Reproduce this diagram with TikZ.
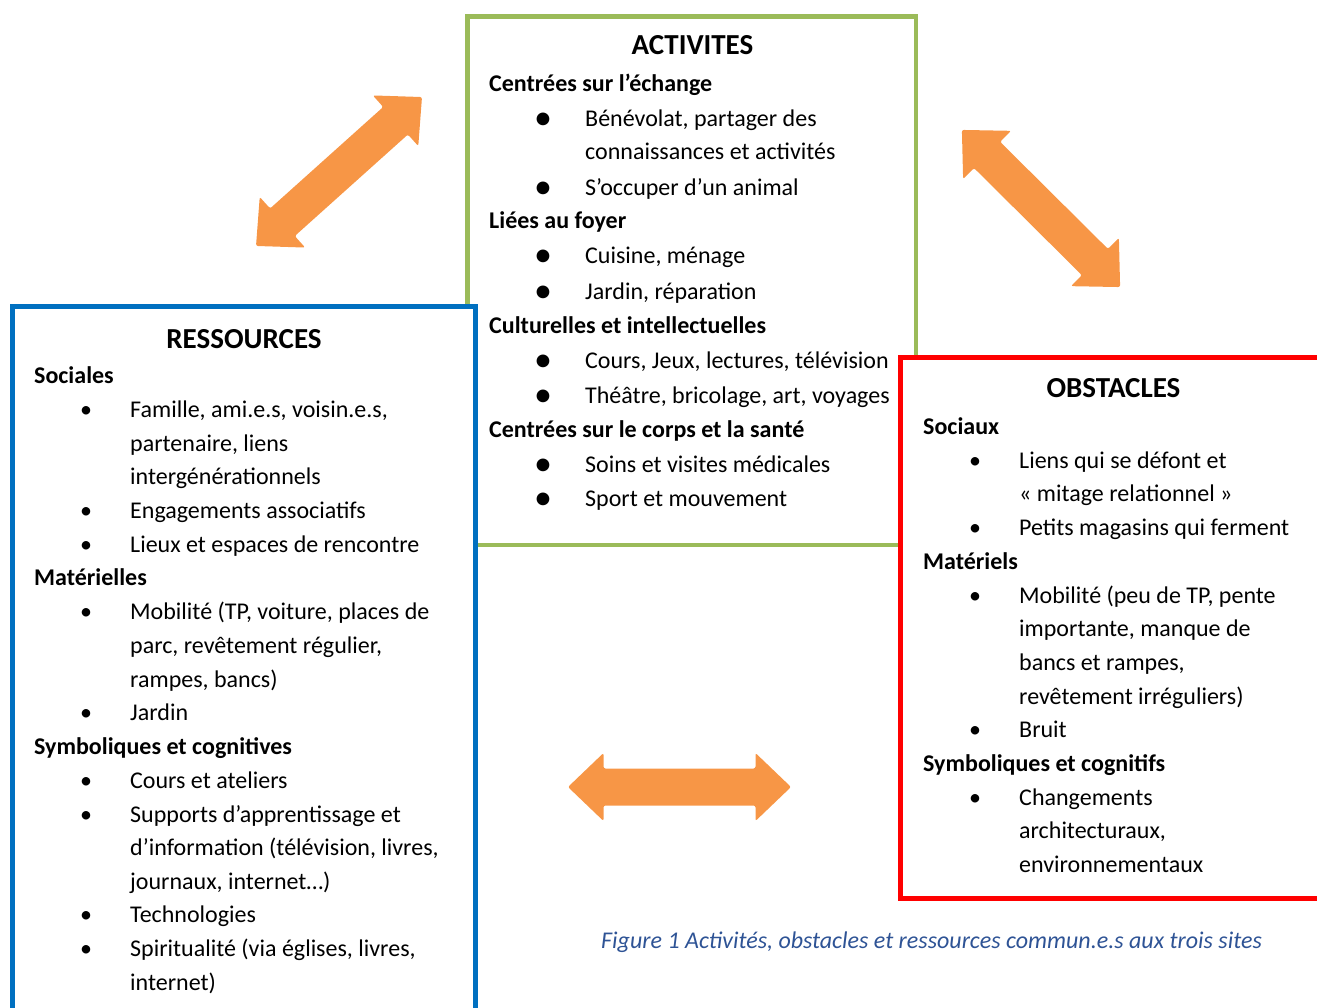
\documentclass[tikz,border=0pt]{standalone}
\usepackage{fontspec}
\setmainfont{Carlito}
\usepackage{xcolor}

\definecolor{vertact}{HTML}{9BBB59}
\definecolor{bleures}{HTML}{0070C0}
\definecolor{rougeobs}{HTML}{FF0000}
\definecolor{orangefl}{HTML}{F79646}
\definecolor{bleuleg}{HTML}{2E5395}

\tikzset{
  cadre/.style={line width=4.5pt, draw=#1, fill=white},
  titre/.style={anchor=base, inner sep=0pt, font=\fontsize{29}{34}\selectfont\bfseries},
  rubrique/.style={anchor=base west, inner sep=0pt, font=\fontsize{24}{34}\selectfont\bfseries},
  ligne/.style={anchor=base west, inner sep=0pt, font=\fontsize{24}{34}\selectfont},
  puce/.style={anchor=base, inner sep=0pt, font=\fontsize{24}{34}\selectfont},
  grossepuce/.style={anchor=base, inner sep=0pt, yshift=-3pt, font=\fontsize{36}{34}\selectfont},
  legende/.style={anchor=base west, inner sep=0pt, text=bleuleg, font=\fontsize{24}{28}\selectfont\itshape},
  fleche/.pic={
    \fill[orangefl, rounded corners=2pt] (-111.5,0) -- (-76,-34) -- (-76,-18.5) -- (76,-18.5)
      -- (76,-34) -- (111.5,0) -- (76,34) -- (76,18.5) -- (-76,18.5) -- (-76,34) -- cycle;
  }
}

\begin{document}
\begin{tikzpicture}[x=1pt,y=-1pt]
  \useasboundingbox (0,0) rectangle (1317,1008);
  \clip (0,0) rectangle (1317,1008);

  %cadres
  \draw[cadre=vertact] (467.5,16.5) rectangle (916,545);
  \draw[cadre=bleures] (12.5,306.5) rectangle (475.5,1040);
  \draw[cadre=rougeobs] (900.5,357.5) rectangle (1350,898.5);

  %fleches
  \pic[rotate=41.9] at (339,171.5) {fleche};
  \pic[rotate=-44.8] at (1041,208.5) {fleche};
  \pic at (679.5,787) {fleche};

  %ACTIVITES
  \node[titre] (act-titre) at (692.5,55) {ACTIVITES};
  \foreach \y/\t [count=\i] in {92/{Centrées sur l’échange}, 229/{Liées au foyer},
      333/{Culturelles et intellectuelles}, 437/{Centrées sur le corps et la santé}}
    \node[rubrique] (act-r\i) at (489,\y) {\t};
  \foreach \y [count=\i] in {127,196,264,300,368,403,472,506}
    \node[grossepuce] (act-p\i) at (543,\y) {•};
  \foreach \y/\t [count=\i] in {127/{Bénévolat, partager des}, 160/{connaissances et activités},
      196/{S’occuper d’un animal}, 264/{Cuisine, ménage}, 300/{Jardin, réparation},
      368/{Cours, Jeux, lectures, télévision}, 403/{Théâtre, bricolage, art, voyages},
      472/{Soins et visites médicales}, 506/{Sport et mouvement}}
    \node[ligne] (act-l\i) at (585,\y) {\t};

  %RESSOURCES
  \node[titre] (res-titre) at (244,348) {RESSOURCES};
  \foreach \y/\t [count=\i] in {383/{Sociales}, 585/{Matérielles}, 754/{Symboliques et cognitives}}
    \node[rubrique] (res-r\i) at (34,\y) {\t};
  \foreach \y [count=\i] in {417,518,552,619,720,788,822,922,956}
    \node[puce] (res-p\i) at (86,\y) {•};
  \foreach \y/\t [count=\i] in {417/{Famille, ami.e.s, voisin.e.s,}, 451/{partenaire, liens},
      484/{intergénérationnels}, 518/{Engagements associatifs}, 552/{Lieux et espaces de rencontre},
      619/{Mobilité (TP, voiture, places de}, 653/{parc, revêtement régulier,}, 687/{rampes, bancs)},
      720/{Jardin}, 788/{Cours et ateliers}, 822/{Supports d’apprentissage et},
      855/{d’information (télévision, livres,}, 889/{journaux, internet…)}, 922/{Technologies},
      956/{Spiritualité (via églises, livres,}, 990/{internet)}}
    \node[ligne] (res-l\i) at (130,\y) {\t};

  %OBSTACLES
  \node[titre] (obs-titre) at (1113.5,397) {OBSTACLES};
  \foreach \y/\t [count=\i] in {434/{Sociaux}, 569/{Matériels}, 771/{Symboliques et cognitifs}}
    \node[rubrique] (obs-r\i) at (923,\y) {\t};
  \foreach \y [count=\i] in {468,535,603,737,805}
    \node[puce] (obs-p\i) at (975,\y) {•};
  \foreach \y/\t [count=\i] in {468/{Liens qui se défont et}, 501/{« mitage relationnel »},
      535/{Petits magasins qui ferment}, 603/{Mobilité (peu de TP, pente}, 636/{importante, manque de},
      670/{bancs et rampes,}, 704/{revêtement irréguliers)}, 737/{Bruit}, 805/{Changements},
      838/{architecturaux,}, 872/{environnementaux}}
    \node[ligne] (obs-l\i) at (1019,\y) {\t};

  %legende
  \node[legende] (leg) at (601,948) {Figure 1 Activités, obstacles et ressources commun.e.s aux trois sites};
\end{tikzpicture}
\end{document}
